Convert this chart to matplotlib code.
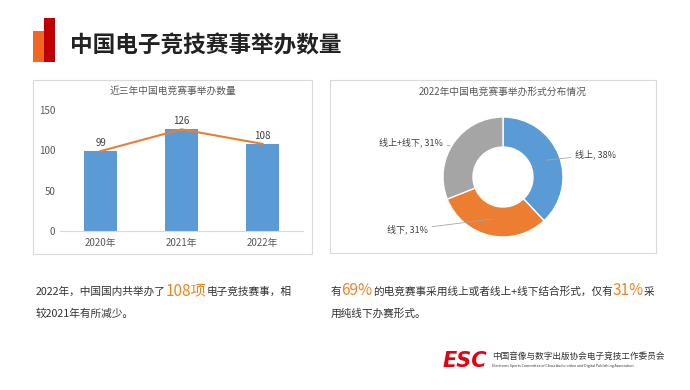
import matplotlib
matplotlib.use("Agg")
import matplotlib.pyplot as plt
from matplotlib import patches

plt.rcParams['font.family'] = ['Noto Sans CJK SC', 'DejaVu Sans']

# data
years = ['2020年', '2021年', '2022年']
counts = [99, 126, 108]
yticks = [0, 50, 100, 150]

forms = ['线上', '线下', '线上+线下']
shares = [38, 31, 31]
form_colors = ['#5B9BD5', '#ED7D31', '#A5A5A5']

W, H = 690, 390
fig = plt.figure(figsize=(W / 100, H / 100), dpi=100)
fig.patch.set_facecolor('white')


def box(x0, y0, x1, y1):
    # pixel box (top-left origin) -> figure fraction rect
    return [x0 / W, 1 - y1 / H, (x1 - x0) / W, (y1 - y0) / H]


def fx(x):
    return x / W


def fy(y):
    return 1 - y / H


# header marks
fig.add_artist(patches.Rectangle((fx(33), fy(62)), 11 / W, 31 / H, transform=fig.transFigure,
                                 color='#F26522', lw=0))
fig.add_artist(patches.Rectangle((fx(44), fy(62)), 11 / W, 44 / H, transform=fig.transFigure,
                                 color='#C00000', lw=0))
fig.text(fx(70), fy(46), '中国电子竞技赛事举办数量', fontsize=16.3, fontweight='bold',
         color='#222222', va='center', ha='left')

# panels
for x0, y0, x1, y1 in [(33, 80, 312, 254), (330, 80, 656, 253)]:
    r = box(x0, y0, x1, y1)
    fig.add_artist(patches.Rectangle((r[0], r[1]), r[2], r[3], transform=fig.transFigure,
                                     fill=False, edgecolor='#D9D9D9', lw=0.8))

# bar chart
ax = fig.add_axes(box(60, 110, 303, 231))
x = list(range(len(years)))
ax.bar(x, counts, width=0.4, color='#5B9BD5', zorder=2)
ax.plot(x, counts, color='#ED7D31', lw=1.5, zorder=3)
for xi, v in zip(x, counts):
    ax.text(xi, v + 4, str(v), ha='center', va='bottom', fontsize=7, color='#404040')
ax.set_xlim(-0.5, 2.5)
ax.set_ylim(0, 150)
ax.set_yticks(yticks)
ax.set_xticks(x)
ax.set_xticklabels(years)
ax.tick_params(axis='both', length=0, labelsize=7, colors='#595959')
ax.tick_params(axis='y', pad=3.5)
ax.tick_params(axis='x', pad=5)
for s in ['top', 'right', 'left']:
    ax.spines[s].set_visible(False)
ax.spines['bottom'].set_color('#D9D9D9')
fig.text(fx(173), fy(91), '近三年中国电竞赛事举办数量', ha='center', va='center',
         fontsize=7, color='#595959')

# donut chart
R = 60
cx, cy = 503, 177
ax2 = fig.add_axes(box(cx - 2 * R, cy - 1.3 * R, cx + 2 * R, cy + 1.3 * R))
wedges, _ = ax2.pie(shares, colors=form_colors, startangle=90, counterclock=False,
                    radius=1, wedgeprops=dict(width=0.5, edgecolor='white', linewidth=1))
ax2.set_xlim(-2, 2)
ax2.set_ylim(-1.3, 1.3)
ax2.set_aspect('equal')
ax2.axis('off')

label_spots = {
    '线上': ((0.72, 0.28), (1.2, 0.37), 'left'),
    '线下': ((-0.17, -0.70), (-1.25, -0.88), 'right'),
    '线上+线下': ((-0.88, 0.52), (-1.0, 0.57), 'right'),
}
for name, pct in zip(forms, shares):
    xy, xyt, ha = label_spots[name]
    ax2.annotate(f'{name}, {pct}%', xy=xy, xytext=xyt, ha=ha, va='center',
                 fontsize=6.5, color='#404040',
                 arrowprops=dict(arrowstyle='-', color='#A6A6A6', lw=0.6,
                                 shrinkA=1, shrinkB=0))
fig.text(fx(503), fy(92), '2022年中国电竞赛事举办形式分布情况', ha='center', va='center',
         fontsize=7, color='#595959')

# rich text lines
renderer = fig.canvas.get_renderer()


def rich(x, y, parts):
    cur = fx(x)
    for txt, size, col in parts:
        t = fig.text(cur, fy(y), txt, fontsize=size, color=col, va='baseline', ha='left')
        w = t.get_window_extent(renderer=renderer).width
        cur += w / W


dark = '#333333'
hi = '#F58220'
rich(36, 295, [('2022年，中国国内共举办了', 7.7, dark), ('108项', 11, hi),
               ('电子竞技赛事，相', 7.7, dark)])
rich(36, 317, [('较2021年有所减少。', 7.7, dark)])
rich(331, 295, [('有', 7.7, dark), ('69%', 11, hi),
                ('的电竞赛事采用线上或者线上+线下结合形式，仅有', 7.7, dark),
                ('31%', 11, hi), ('采', 7.7, dark)])
rich(331, 317, [('用纯线下办赛形式。', 7.7, dark)])

# footer logo
fig.text(fx(443), fy(361), 'ESC', fontsize=15, fontweight='bold', style='italic',
         color='#E60012', va='center', ha='left', family='DejaVu Sans')
fig.text(fx(492), fy(356), '中国音像与数字出版协会电子竞技工作委员会', fontsize=6.2,
         color='#333333', va='center', ha='left')
fig.text(fx(492), fy(366), 'Electronic Sports Committee of China Audio-video and Digital Publishing Association',
         fontsize=2.6, color='#333333', va='center', ha='left')

fig.savefig('out.png', dpi=100)
